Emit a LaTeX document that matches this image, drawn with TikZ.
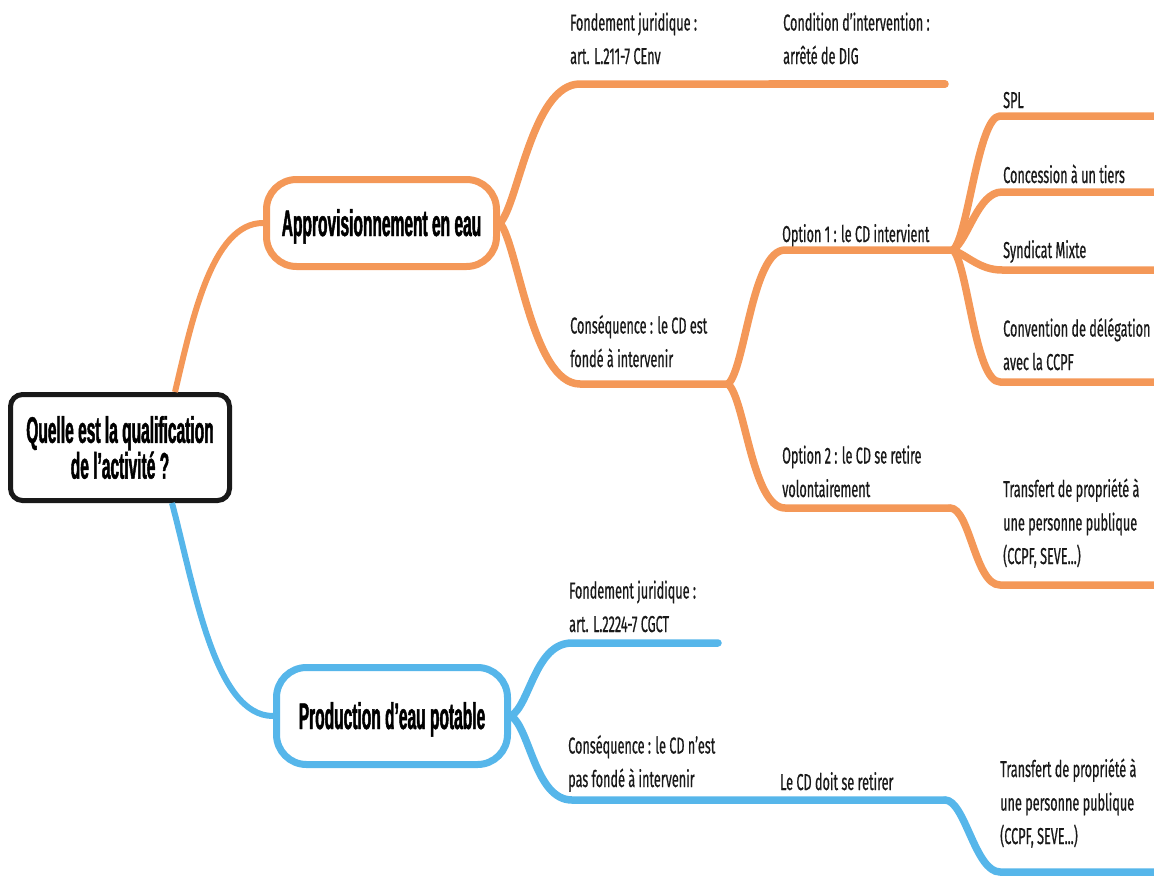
\documentclass[tikz,border=0pt]{standalone}
\usepackage{fontspec}
\setmainfont{Fira Sans}
\newfontfamily\lblfont{Fira Sans}[FakeStretch=0.55, FakeBold=0.6]
\newfontfamily\ttlfont{Liberation Sans}[FakeStretch=0.42, BoldFeatures={FakeBold=1.2}]
\definecolor{mmorange}{RGB}{244,152,88}
\definecolor{mmblue}{RGB}{86,182,234}
\definecolor{mmblack}{RGB}{25,25,25}
\begin{document}
\begin{tikzpicture}[x=1pt,y=-1pt,
  lbl/.style={anchor=base west, align=left, inner sep=0pt, font=\lblfont\fontsize{23}{33.5}\selectfont, text=black!90},
  ttl/.style={font=\ttlfont\bfseries\fontsize{37}{34}\selectfont, inner sep=0pt, align=center},
  rootbox/.style={ttl, draw=mmblack, fill=white, line width=5pt, rounded corners=12pt, minimum width=219pt, minimum height=106pt},
  mainbox/.style={ttl, fill=white, line width=7pt, rounded corners=30pt, text height=26pt, text depth=0pt},
  obranch/.style={draw=mmorange, line width=7.5pt, line cap=round, line join=round},
  bbranch/.style={draw=mmblue, line width=7.5pt, line cap=round, line join=round},
]
\useasboundingbox (0,0) rectangle (1154,878);
\clip (0,0) rectangle (1154,878);

% main nodes
\node[rootbox] (root) at (120,447.5) {Quelle est la qualification\\de l’activité ?};
\node[mainbox, draw=mmorange, minimum width=230pt, minimum height=87pt] (appro) at (381.5,223) {Approvisionnement en eau};
\node[mainbox, draw=mmblue, minimum width=231pt, minimum height=97pt] (prod) at (392,716) {Production d’eau potable};

% labels (anchor = baseline of the last line)
\node[lbl] (tFJ) at (570,64) {Fondement juridique :\\art. L.211-7 CEnv};
\node[lbl] (tCI) at (783,64) {Condition d’intervention :\\arrêté de DIG};
\node[lbl] (tCQ) at (570,367) {Conséquence : le CD est\\fondé à intervenir};
\node[lbl] (tO1) at (782,242) {Option 1 : le CD intervient};
\node[lbl] (tO2) at (782,497) {Option 2 : le CD se retire\\volontairement};
\node[lbl] (tSPL) at (1003,108) {SPL};
\node[lbl] (tCT) at (1003,183) {Concession à un tiers};
\node[lbl] (tSM) at (1003,258) {Syndicat Mixte};
\node[lbl] (tCV) at (1003,370) {Convention de délégation\\avec la CCPF};
\node[lbl] (tTO) at (1003,564) {Transfert de propriété à\\une personne publique\\(CCPF, SEVE...)};
\node[lbl] (tBFJ) at (569,632) {Fondement juridique :\\art. L.2224-7 CGCT};
\node[lbl] (tBCQ) at (568,787) {Conséquence : le CD n’est\\pas fondé à intervenir};
\node[lbl] (tLR) at (780,790) {Le CD doit se retirer};
\node[lbl] (tTB) at (1000,844) {Transfert de propriété à\\une personne publique\\(CCPF, SEVE...)};

% junctions and free ends
\coordinate (oFJ) at (770,84);
\coordinate (oCI) at (945,84);
\coordinate (oJ1) at (728,384);
\coordinate (oJ2) at (953,250);
\coordinate (oO2) at (950,508);
\coordinate (eTO) at (1170,585);
\coordinate (eSPL) at (1170,116);
\coordinate (eCT) at (1170,192);
\coordinate (eSM) at (1170,270);
\coordinate (eCV) at (1170,382);
\coordinate (bFJ) at (718,643);
\coordinate (bLR) at (945,800);
\coordinate (eTB) at (1170,872);

% root connectors
\draw[draw=mmorange, line width=6pt] ([xshift=55pt]root.north) .. controls (192,320) and (212,223) .. (appro.west);
\draw[draw=mmblue, line width=6pt] ([xshift=52pt]root.south) .. controls (195,590) and (215,716) .. (prod.west);

% orange branches
\draw[obranch] (appro.east) .. controls (518,205) and (532,84) .. (580,84) -- (oFJ);
\draw[obranch] (oFJ) -- (oCI);
\draw[obranch] (appro.east) .. controls (518,245) and (532,384) .. (580,384) -- (oJ1);
\draw[obranch] (oJ1) .. controls (745,370) and (752,250) .. (785,250) -- (oJ2);
\draw[obranch] (oJ1) .. controls (745,398) and (752,508) .. (785,508) -- (oO2);
\draw[obranch] (oO2) .. controls (970,508) and (975,585) .. (1000,585) -- (eTO);
\draw[obranch] (oJ2) .. controls (968,238) and (978,116) .. (1000,116) -- (eSPL);
\draw[obranch] (oJ2) .. controls (968,240) and (978,192) .. (1002,192) -- (eCT);
\draw[obranch] (oJ2) .. controls (968,256) and (980,270) .. (1002,270) -- (eSM);
\draw[obranch] (oJ2) .. controls (968,265) and (975,382) .. (1000,382) -- (eCV);

% blue branches
\draw[bbranch] (prod.east) .. controls (530,705) and (535,643) .. (572,643) -- (bFJ);
\draw[bbranch] (prod.east) .. controls (530,728) and (535,800) .. (572,800) -- (bLR);
\draw[bbranch] (bLR) .. controls (965,800) and (975,872) .. (1000,872) -- (eTB);
\end{tikzpicture}
\end{document}
